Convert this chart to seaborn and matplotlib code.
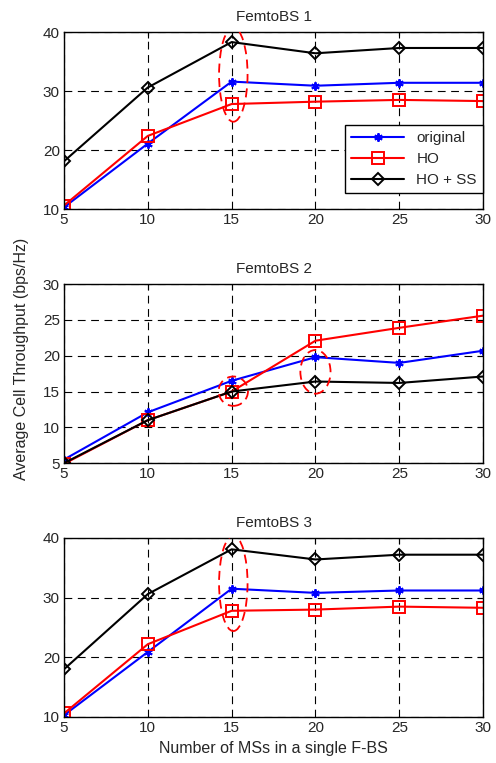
import numpy as np
import pandas as pd
import matplotlib
matplotlib.use('Agg')
import matplotlib.pyplot as plt
import seaborn as sns
from matplotlib.patches import Ellipse

# data
n_ms = [5, 10, 15, 20, 25, 30]

bs1_original = [10.3, 21.1, 31.6, 30.9, 31.4, 31.4]
bs1_ho = [10.6, 22.4, 27.8, 28.2, 28.5, 28.3]
bs1_ho_ss = [18.1, 30.6, 38.3, 36.4, 37.3, 37.3]

bs2_original = [5.5, 12.1, 16.5, 19.8, 19.0, 20.7]
bs2_ho = [4.9, 11.0, 15.0, 22.1, 23.9, 25.6]
bs2_ho_ss = [5.0, 11.0, 15.0, 16.4, 16.2, 17.1]

bs3_original = [10.3, 20.9, 31.5, 30.8, 31.2, 31.2]
bs3_ho = [10.6, 22.2, 27.8, 28.0, 28.5, 28.3]
bs3_ho_ss = [18.0, 30.6, 38.1, 36.4, 37.2, 37.2]

titles = ['FemtoBS 1', 'FemtoBS 2', 'FemtoBS 3']
series_labels = ['original', 'HO', 'HO + SS']
y_limits = [(10, 40), (5, 30), (10, 40)]
y_ticks = [[10, 20, 30, 40], [5, 10, 15, 20, 25, 30], [10, 20, 30, 40]]

# highlighted regions (center x, center y, width, height)
ellipses = [
    [(15.1, 32.8, 1.7, 16.0)],
    [(15.1, 15.05, 1.75, 4.1), (20.0, 17.75, 1.8, 6.1)],
    [(15.1, 32.4, 1.7, 16.0)],
]

panels = [
    (bs1_original, bs1_ho, bs1_ho_ss),
    (bs2_original, bs2_ho, bs2_ho_ss),
    (bs3_original, bs3_ho, bs3_ho_ss),
]

sns.set_style('white')
plt.rcParams['font.family'] = ['Liberation Sans', 'DejaVu Sans']
plt.rcParams['font.size'] = 11

colors = ['#0000ff', '#ff0000', '#000000']
markers = [(6, 2, 0), 's', 'D']
msizes = [6, 8, 6.5]

fig = plt.figure(figsize=(4.96, 7.63), dpi=100)
positions = [
    [0.129, 0.726, 0.845, 0.232],
    [0.129, 0.393, 0.845, 0.2346],
    [0.129, 0.0603, 0.845, 0.2346],
]

for i, (pos, data) in enumerate(zip(positions, panels)):
    ax = fig.add_axes(pos)
    for vals, lab, c, m, ms in zip(data, series_labels, colors, markers, msizes):
        sns.lineplot(x=n_ms, y=vals, color=c, marker=m, markersize=ms,
                     linewidth=1.5, label=lab, ax=ax, legend=False)
    for line in ax.lines:
        line.set_markerfacecolor('none')
        line.set_markeredgecolor(line.get_color())
        line.set_markeredgewidth(1.4)

    for (cx, cy, w, h) in ellipses[i]:
        ax.add_patch(Ellipse((cx, cy), w, h, fill=False, edgecolor='red',
                             linestyle=(0, (5, 3)), linewidth=1.3, zorder=5))

    ax.set_xlim(5, 30)
    ax.set_ylim(*y_limits[i])
    ax.set_xticks(n_ms)
    ax.set_yticks(y_ticks[i])
    ax.grid(True, color='black', linestyle=(0, (7, 5)), linewidth=0.8)
    ax.tick_params(direction='in', top=True, right=True, length=4,
                   labelsize=11, pad=3, color='black')
    for sp in ax.spines.values():
        sp.set_color('black')
        sp.set_linewidth(1.0)
    ax.set_title(titles[i], fontsize=11, pad=8)

    if i == 0:
        leg = ax.legend(handles=ax.lines[:3], labels=series_labels,
                        loc='lower right', bbox_to_anchor=(1.0, 0.09),
                        frameon=True, fancybox=False, framealpha=1,
                        edgecolor='black', fontsize=11, handlelength=3.5,
                        borderpad=0.4, labelspacing=0.45, borderaxespad=0)
        leg.get_frame().set_linewidth(1.0)
    if i == 2:
        ax.set_xlabel('Number of MSs in a single F-BS', fontsize=11.5, labelpad=4)

fig.text(0.044, 0.53, 'Average Cell Throughput (bps/Hz)', rotation=90,
         ha='center', va='center', fontsize=11.5)

fig.savefig('out.png', dpi=100)
